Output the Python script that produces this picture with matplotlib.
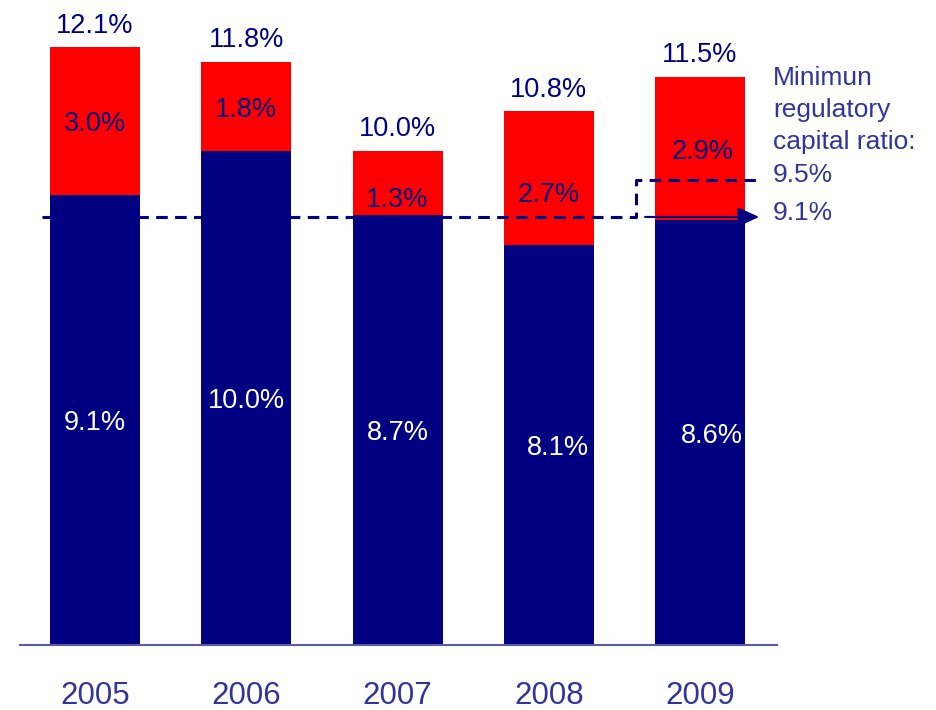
import numpy as np
import matplotlib.pyplot as plt

plt.rcParams['font.family'] = ['Liberation Sans', 'DejaVu Sans']

years = ['2005', '2006', '2007', '2008', '2009']
core = [9.1, 10.0, 8.7, 8.1, 8.6]      # navy part of each bar
extra = [3.0, 1.8, 1.3, 2.7, 2.9]      # red part stacked on top
totals = [c + e for c, e in zip(core, extra)]

# minimum regulatory capital ratio guide (line height, text)
min_lo, min_hi = 8.66, 9.41
min_lo_txt, min_hi_txt = '9.1%', '9.5%'
note_lines = ['Minimun', 'regulatory', 'capital ratio:']

# small nudges for the value labels
core_dx = [0, 0, 0, 0.06, 0.08]
extra_dx = [0, 0, 0, 0, 0.02]
extra_dy = [0, 0, 0.28, 0.27, 0.0]

NAVY = '#000080'
RED = '#ff0000'
TXT = '#333399'

fig = plt.figure(figsize=(9.37, 7.10), dpi=100)
ax = fig.add_axes([20 / 937, 65 / 710, 757 / 937, 645 / 710])

x = np.arange(len(years))
w = 0.595
ax.bar(x, core, w, color=NAVY, zorder=2)
ax.bar(x, extra, w, bottom=core, color=RED, zorder=2)

for i in range(len(x)):
    ax.text(x[i], totals[i] + 0.29, f'{totals[i]:.1f}%', ha='center',
            va='baseline', fontsize=19.5, color=NAVY, zorder=5)
    ax.text(x[i] + core_dx[i], core[i] / 2 - 0.21, f'{core[i]:.1f}%',
            ha='center', va='baseline', fontsize=19.5, color='white', zorder=5)
    ax.text(x[i] + extra_dx[i], core[i] + extra[i] / 2 - 0.21 - extra_dy[i],
            f'{extra[i]:.1f}%', ha='center', va='baseline', fontsize=19.5,
            color=NAVY, zorder=5)

# dashed minimum line, stepping up before the last bar
x0 = x[0] - w / 2 - 0.05
xs = x[-1] - w / 2 - 0.125
xe = x[-1] + w / 2 + 0.093
ax.plot([x0, xs, xs, xe], [min_lo, min_lo, min_hi, min_hi],
        ls=(0, (3.8, 2.4)), lw=2.2, color=NAVY, zorder=3)
ax.annotate('', xy=(xe, min_lo), xytext=(x[-1] - w / 2 - 0.066, min_lo),
            arrowprops=dict(arrowstyle='-|>,head_length=1.3,head_width=0.6',
                            mutation_scale=10, lw=1.5, color=NAVY,
                            shrinkA=0, shrinkB=0), zorder=4)

xt = xe + 0.093
for k, line in enumerate(note_lines):
    ax.text(xt, 10.04 + 0.65 * (len(note_lines) - 1 - k), line, ha='left',
            va='baseline', fontsize=19, color=TXT)
ax.text(xt, min_hi - 0.04, min_hi_txt, ha='left', va='baseline',
        fontsize=19, color=TXT)
ax.text(xt, min_lo - 0.06, min_lo_txt, ha='left', va='baseline',
        fontsize=19, color=TXT)

ax.set_xlim(-0.496, 4.509)
ax.set_ylim(0, 13.05)
ax.set_xticks(x, years)
ax.set_yticks([])
ax.tick_params(axis='x', length=0, pad=26, labelsize=22.5, labelcolor=TXT)
for s in ['top', 'right', 'left']:
    ax.spines[s].set_visible(False)
ax.spines['bottom'].set_color('#5a5aaa')
ax.spines['bottom'].set_linewidth(1.5)

fig.savefig('out.png', dpi=100)
